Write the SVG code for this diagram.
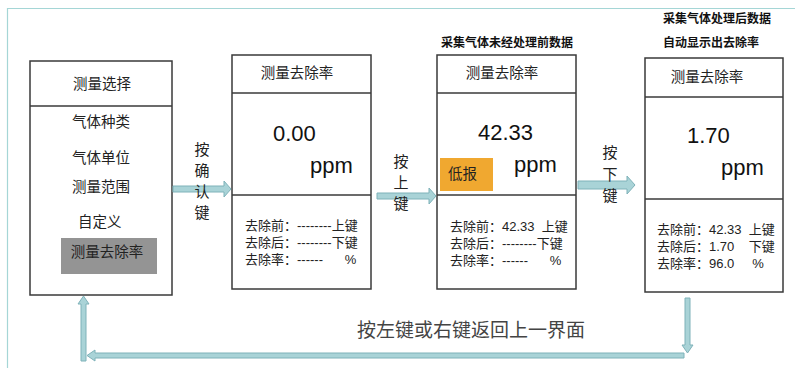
<svg xmlns="http://www.w3.org/2000/svg" width="795" height="368" viewBox="0 0 795 368">
<style>
.box{fill:#fff;stroke:#3a3a3a;stroke-width:1.5}
.ln{stroke:#3a3a3a;stroke-width:1.5}
.cn{font-family:"Noto Sans CJK SC","Liberation Sans",sans-serif;fill:#222}
.mx{font-family:"Liberation Sans","Noto Sans CJK SC",sans-serif;fill:#222}
.t{font-size:14.5px}
.big{font-size:22px;font-family:"Liberation Sans",sans-serif;fill:#111}
.sm{font-size:13px}
.ttl{font-size:12px;font-weight:bold;fill:#111}
.vt{font-size:15px;text-anchor:middle}
.arr{fill:#a9d3d7;stroke:#7fb2b9;stroke-width:1}
</style>
<rect x="0" y="0" width="795" height="368" fill="#fff"/>
<path d="M7.5 368 V8.5 H795" fill="none" stroke="#a5d6d6" stroke-width="1.2"/>

<g id="node-select">
<rect class="box" x="30" y="61" width="142" height="234"/>
<line class="ln" x1="30" y1="106" x2="172" y2="106"/>
<text class="cn t" x="102" y="89" text-anchor="middle">测量选择</text>
<text class="cn t" x="72" y="127">气体种类</text>
<text class="cn t" x="72" y="163">气体单位</text>
<text class="cn t" x="72" y="192">测量范围</text>
<text class="cn t" x="78" y="227">自定义</text>
<rect x="61" y="238" width="96" height="36" fill="#949494"/>
<text class="cn t" x="107" y="257" text-anchor="middle">测量去除率</text>
</g>

<g id="node-screen1">
<rect class="box" x="232" y="55" width="139" height="234"/>
<line class="ln" x1="232" y1="93" x2="371" y2="93"/>
<line class="ln" x1="232" y1="195" x2="371" y2="195"/>
<text class="cn t" x="297" y="78" text-anchor="middle">测量去除率</text>
<text class="big" x="273" y="141">0.00</text>
<text class="big" x="310" y="173">ppm</text>
<text class="mx sm" x="245" y="230">去除前：--------上键</text>
<text class="mx sm" x="245" y="247">去除后：--------下键</text>
<text class="mx sm" x="245" y="264" xml:space="preserve">去除率：------      %</text>
</g>

<g id="node-screen2">
<text class="cn ttl" x="507" y="47" text-anchor="middle">采集气体未经处理前数据</text>
<rect class="box" x="437" y="55" width="139" height="234"/>
<line class="ln" x1="437" y1="93" x2="576" y2="93"/>
<line class="ln" x1="437" y1="195" x2="576" y2="195"/>
<text class="cn t" x="502" y="78" text-anchor="middle">测量去除率</text>
<text class="big" x="478" y="140">42.33</text>
<rect x="440" y="158" width="53" height="33" fill="#f0a830"/>
<text class="cn t" x="448" y="179">低报</text>
<text class="big" x="514" y="172">ppm</text>
<text class="mx sm" x="450" y="231" xml:space="preserve">去除前：42.33  上键</text>
<text class="mx sm" x="450" y="248">去除后：--------下键</text>
<text class="mx sm" x="450" y="265" xml:space="preserve">去除率：------      %</text>
</g>

<g id="node-screen3">
<text class="cn ttl" x="663" y="23">采集气体处理后数据</text>
<text class="cn ttl" x="663" y="47">自动显示出去除率</text>
<rect class="box" x="645" y="58" width="138" height="234"/>
<line class="ln" x1="645" y1="97" x2="783" y2="97"/>
<line class="ln" x1="645" y1="199" x2="783" y2="199"/>
<text class="cn t" x="707" y="82" text-anchor="middle">测量去除率</text>
<text class="big" x="687" y="143">1.70</text>
<text class="big" x="721" y="175">ppm</text>
<text class="mx sm" x="657" y="234" xml:space="preserve">去除前：42.33  上键</text>
<text class="mx sm" x="657" y="251" xml:space="preserve">去除后：1.70    下键</text>
<text class="mx sm" x="657" y="268" xml:space="preserve">去除率：96.0     %</text>
</g>

<g id="connectors">
<path class="arr" d="M173 186 H224 V181 L231 189 L224 197 V192 H173 Z"/>
<text class="cn vt" x="202" y="155">按</text>
<text class="cn vt" x="202" y="176">确</text>
<text class="cn vt" x="202" y="197">认</text>
<text class="cn vt" x="202" y="218">键</text>

<path class="arr" d="M377 193 H429 V188 L436 196 L429 204 V199 H377 Z"/>
<text class="cn vt" x="401" y="167">按</text>
<text class="cn vt" x="401" y="188">上</text>
<text class="cn vt" x="401" y="209">键</text>

<path class="arr" d="M578 181 H627 V176 L635 185 L627 194 V189 H578 Z"/>
<text class="cn vt" x="610" y="158">按</text>
<text class="cn vt" x="610" y="180">下</text>
<text class="cn vt" x="610" y="201">键</text>

<path class="arr" d="M685 298 H690 V345 H693 L687.5 353 L682 345 H685 Z"/>
<path class="arr" d="M684 353 V358 H95 V361 L87 355.5 L95 350 V353 Z"/>
<path class="arr" d="M81 361 V304 H78 L83.5 296 L89 304 H86 V361 Z"/>
<text class="cn" x="357" y="337" font-size="19px" style="fill:#444">按左键或右键返回上一界面</text>
</g>
</svg>
